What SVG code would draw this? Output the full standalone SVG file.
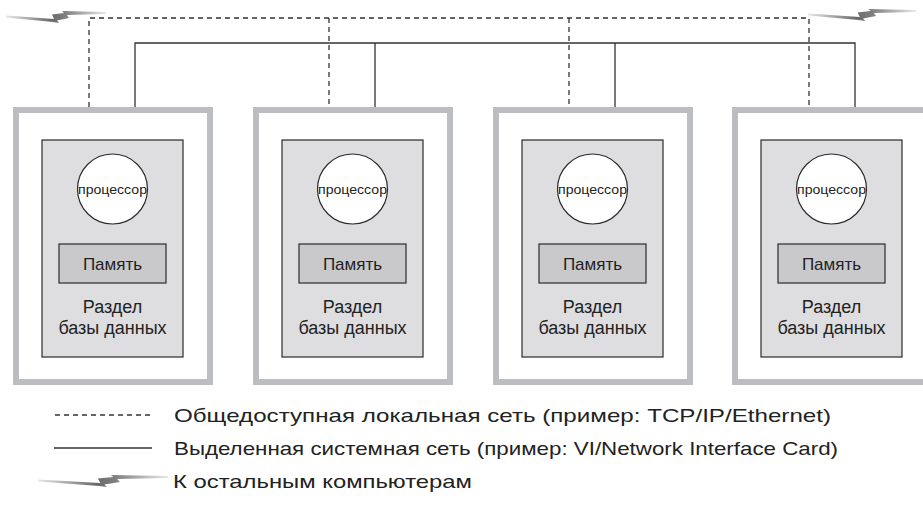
<svg xmlns="http://www.w3.org/2000/svg" width="923" height="505" viewBox="0 0 923 505">
<style>
.outer{fill:#ffffff;stroke:#bcbdc0;stroke-width:6}
.inner{fill:#dedee0;stroke:#2a2a2a;stroke-width:1.2}
.cpu{fill:#ffffff;stroke:#2a2a2a;stroke-width:1.2}
.mem{fill:#c9c9cb;stroke:#2a2a2a;stroke-width:1.2}
.t{font-family:"Liberation Sans",Arial,sans-serif;fill:#222;text-anchor:middle}
.cpuT{font-size:13.5px}
.memT{font-size:17px}
.partT{font-size:18px}
.leg{font-family:"Liberation Sans",Arial,sans-serif;fill:#222;font-size:19px}
.dash{fill:none;stroke:#333;stroke-width:1.3;stroke-dasharray:5,4}
.solid{fill:none;stroke:#333;stroke-width:1.3}
</style>
<defs>
<linearGradient id="bolt" x1="0" y1="0" x2="1" y2="0">
<stop offset="0" stop-color="#e8e8e8"/>
<stop offset="0.45" stop-color="#6a6a6a"/>
<stop offset="0.6" stop-color="#808080"/>
<stop offset="1" stop-color="#e8e8e8"/>
</linearGradient>
<g id="boltShape">
<polygon points="0,2.5 48,6 46,1.5 58,0 56,-2 100,-1 100,1 61,2 63,5 51,7.5 53,10 47,9 0,4.5" fill="url(#bolt)"/>
</g>
</defs>

<g id="connectors">
<path class="dash" d="M89,107 V18 H809 V107 M329,18 V107 M569,18 V107"/>
<path class="solid" d="M135,107 V43 H855 V107 M375,43 V107 M615,43 V107"/>
<use href="#boltShape" transform="translate(6,13)"/>
<use href="#boltShape" transform="translate(808,11) scale(1.08,1)"/>
</g>

<g id="node1">
<rect class="outer" x="16" y="110" width="194" height="272"/>
<rect class="inner" x="42" y="140" width="141" height="217"/>
<circle class="cpu" cx="112.5" cy="189" r="35"/>
<text class="t cpuT" x="112.5" y="193.5" textLength="69" lengthAdjust="spacingAndGlyphs">процессор</text>
<rect class="mem" x="59" y="244" width="107" height="39"/>
<text class="t memT" x="112.5" y="270">Память</text>
<text class="t partT" x="112.5" y="313">Раздел</text>
<text class="t partT" x="112.5" y="334">базы данных</text>
</g>

<g id="node2">
<rect class="outer" x="256" y="110" width="194" height="272"/>
<rect class="inner" x="282" y="140" width="141" height="217"/>
<circle class="cpu" cx="352.5" cy="189" r="35"/>
<text class="t cpuT" x="352.5" y="193.5" textLength="69" lengthAdjust="spacingAndGlyphs">процессор</text>
<rect class="mem" x="299" y="244" width="107" height="39"/>
<text class="t memT" x="352.5" y="270">Память</text>
<text class="t partT" x="352.5" y="313">Раздел</text>
<text class="t partT" x="352.5" y="334">базы данных</text>
</g>

<g id="node3">
<rect class="outer" x="496" y="110" width="194" height="272"/>
<rect class="inner" x="522" y="140" width="141" height="217"/>
<circle class="cpu" cx="592.5" cy="189" r="35"/>
<text class="t cpuT" x="592.5" y="193.5" textLength="69" lengthAdjust="spacingAndGlyphs">процессор</text>
<rect class="mem" x="539" y="244" width="107" height="39"/>
<text class="t memT" x="592.5" y="270">Память</text>
<text class="t partT" x="592.5" y="313">Раздел</text>
<text class="t partT" x="592.5" y="334">базы данных</text>
</g>

<g id="node4">
<rect class="outer" x="735" y="110" width="194" height="272"/>
<rect class="inner" x="761" y="140" width="141" height="217"/>
<circle class="cpu" cx="831.5" cy="189" r="35"/>
<text class="t cpuT" x="831.5" y="193.5" textLength="69" lengthAdjust="spacingAndGlyphs">процессор</text>
<rect class="mem" x="778" y="244" width="107" height="39"/>
<text class="t memT" x="831.5" y="270">Память</text>
<text class="t partT" x="831.5" y="313">Раздел</text>
<text class="t partT" x="831.5" y="334">базы данных</text>
</g>

<g id="legend">
<line class="dash" x1="55" y1="415" x2="152" y2="415"/>
<line class="solid" x1="54" y1="448" x2="152" y2="448"/>
<use href="#boltShape" transform="translate(38,477) scale(1.3,1)"/>
<text class="leg" x="174" y="422" textLength="657" lengthAdjust="spacingAndGlyphs">Общедоступная локальная сеть (пример: TCP/IP/Ethernet)</text>
<text class="leg" x="174" y="455" textLength="664" lengthAdjust="spacingAndGlyphs">Выделенная системная сеть (пример: VI/Network Interface Card)</text>
<text class="leg" x="173" y="488" textLength="299" lengthAdjust="spacingAndGlyphs">К остальным компьютерам</text>
</g>
</svg>
